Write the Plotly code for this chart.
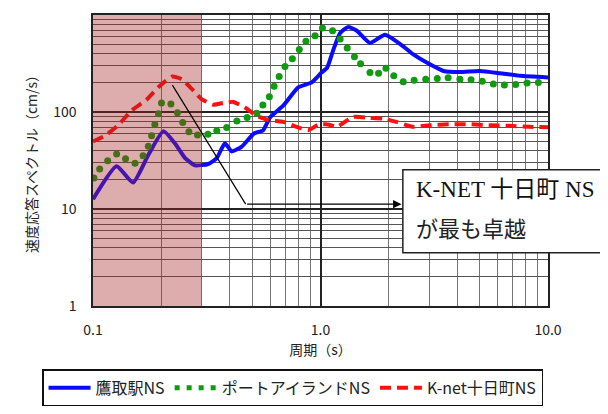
import plotly.graph_objects as go

# 周期 (s) / 速度応答スペクトル (cm/s)
blue_x = [0.100, 0.127, 0.150, 0.175, 0.204, 0.229, 0.254, 0.281, 0.321, 0.350,
          0.380, 0.407, 0.451, 0.510, 0.560, 0.600, 0.687, 0.800, 0.915, 1.01,
          1.07, 1.14, 1.22, 1.32, 1.44, 1.65, 1.92, 2.31, 2.56, 2.93,
          3.47, 4.10, 5.02, 6.15, 7.53, 10.0]
blue_y = [12.6, 27.6, 18.7, 36, 63.5, 47.6, 33.5, 28.2, 29.1, 33.5,
          47.6, 39.2, 44, 60, 65, 88, 117, 180, 202, 255,
          287, 441, 652, 750, 692, 515, 626, 476, 392, 323,
          265, 258, 265, 251, 236, 227]

green_x = [0.101, 0.107, 0.116, 0.127, 0.139, 0.153, 0.166, 0.175, 0.181, 0.187,
           0.194, 0.200, 0.220, 0.235, 0.248, 0.264, 0.288, 0.320, 0.350, 0.387,
           0.429, 0.476, 0.525, 0.558, 0.596, 0.625, 0.658, 0.698, 0.752, 0.807,
           0.863, 0.946, 1.02, 1.13, 1.22, 1.31, 1.41, 1.50, 1.65, 1.80,
           1.94, 2.10, 2.31, 2.58, 2.90, 3.26, 3.64, 4.10, 4.59, 5.14,
           5.75, 6.43, 7.21, 8.09, 9.07]
green_y = [20.9, 25.9, 31.4, 37, 33, 29.6, 35.3, 44.4, 57, 74.3,
           96, 124, 121, 98, 78, 62.6, 57.8, 58.8, 64, 69.2,
           81, 88, 97, 118, 144, 184, 232, 294, 354, 441,
           535, 611, 733, 687, 566, 458, 371, 315, 255, 251,
           282, 236, 205, 213, 218, 222, 225, 218, 215, 207,
           194, 190, 192, 199, 202]

red_x = [0.100, 0.113, 0.129, 0.148, 0.172, 0.197, 0.223, 0.245, 0.272, 0.300,
         0.338, 0.373, 0.414, 0.466, 0.525, 0.580, 0.687, 0.786, 0.883, 0.980,
         1.08, 1.18, 1.39, 1.65, 1.89, 2.16, 2.56, 3.03, 3.71, 4.54,
         5.56, 6.80, 8.30, 10.0]
red_y = [49.6, 57, 73, 104, 134, 187, 232, 218, 173, 136,
         119, 124, 127, 111, 91, 83.6, 79, 70.3, 65, 74,
         74.5, 70.3, 89, 87, 85.5, 79, 70.3, 73, 74.8, 74.8,
         73, 72, 70.3, 69.5]

names = ["鷹取駅NS", "ポートアイランドNS", "K-net十日町NS"]
x_ticks = [0.1, 1, 10]
x_ticktext = ["0.1", "1.0", "10.0"]
y_ticks = [1, 10, 100, 1000]
y_ticktext = ["1", "10", "100", "1000"]

FONT = "Noto Sans CJK JP"

fig = go.Figure()
fig.add_trace(go.Scatter(x=blue_x, y=blue_y, mode="lines", name=names[0],
                         line=dict(color="#0a0aff", width=4, shape="spline", smoothing=0.5)))
# dots drawn as markers, legend entry as a dotted line
fig.add_trace(go.Scatter(x=green_x, y=green_y, mode="markers", showlegend=False,
                         marker=dict(color="#109a10", size=7)))
fig.add_trace(go.Scatter(x=[None], y=[None], mode="lines", name=names[1],
                         line=dict(color="#109a10", width=5, dash="5px,7px")))
fig.add_trace(go.Scatter(x=red_x, y=red_y, mode="lines", name=names[2],
                         line=dict(color="#ff1010", width=4, dash="11px,6px",
                                   shape="spline", smoothing=0.5)))

# hatched short-period band
fig.add_shape(type="rect", xref="x domain", yref="y domain", x0=0, x1=0.2386, y0=0, y1=1,
              fillcolor="rgb(165,40,40)", opacity=0.38, line_width=0, layer="above")

# arrow to the note
fig.add_shape(type="line", xref="x domain", yref="y domain",
              x0=0.1745, y0=0.759, x1=0.3355, y1=0.35, line=dict(color="black", width=1.2))
fig.add_annotation(xref="x domain", yref="y domain", axref="x domain", ayref="y domain",
                   x=0.678, y=0.35, ax=0.3355, ay=0.35, text="", showarrow=True,
                   arrowhead=2, arrowsize=1.4, arrowwidth=1.2, arrowcolor="black")
fig.add_shape(type="rect", xref="x domain", yref="y domain", x0=0.681, x1=1.15, y0=0.183, y1=0.468,
              fillcolor="white", line=dict(color="#222", width=1.5), layer="above")
fig.add_annotation(xref="x domain", yref="y domain", x=0.706, y=0.400,
                   xanchor="left", yanchor="middle",
                   text="K-NET 十日町 NS", showarrow=False,
                   font=dict(family="Liberation Serif, Noto Sans CJK JP", size=23, color="#111"))
fig.add_annotation(xref="x domain", yref="y domain", x=0.706, y=0.272,
                   xanchor="left", yanchor="middle",
                   text="が最も卓越", showarrow=False,
                   font=dict(family="Noto Sans CJK JP", size=22, color="#222"))

fig.update_xaxes(type="log", range=[-1, 1], tickvals=x_ticks, ticktext=x_ticktext,
                 showgrid=True, gridcolor="#222", gridwidth=1.5,
                 minor=dict(dtick="D1", showgrid=True, gridcolor="#777", gridwidth=1),
                 showline=True, mirror=True, linecolor="#222", linewidth=1.5,
                 ticks="", ticklabelstandoff=10, automargin=False,
                 tickfont=dict(family=FONT, size=14, color="#222"),
                 title=dict(text="周期（s）", standoff=6,
                            font=dict(family=FONT, size=14, color="#222")))
fig.update_yaxes(type="log", range=[0, 3], tickvals=y_ticks, ticktext=y_ticktext,
                 showgrid=True, gridcolor="#222", gridwidth=1.5,
                 minor=dict(dtick="D1", showgrid=True, gridcolor="#555", gridwidth=1),
                 showline=True, mirror=True, linecolor="#222", linewidth=1.5,
                 ticks="", ticklabelstandoff=12, automargin=False,
                 tickfont=dict(family=FONT, size=14, color="#222"),
                 title=dict(text="速度応答スペクトル（cm/s）", standoff=12,
                            font=dict(family=FONT, size=14, color="#222")))

# page body adds an 8px offset, so the figure is 8px smaller than the window
fig.update_layout(
    width=600, height=406,
    margin=dict(l=85, r=60, t=7, b=104),
    plot_bgcolor="white", paper_bgcolor="white",
    font=dict(family=FONT, color="#222"),
    legend=dict(orientation="h", x=-0.112, xanchor="left", y=-0.218, yanchor="top",
                bordercolor="#111", borderwidth=1.5, bgcolor="white",
                font=dict(family=FONT, size=16, color="#222"),
                itemwidth=42, tracegroupgap=0),
)

fig.write_html("out.html")
